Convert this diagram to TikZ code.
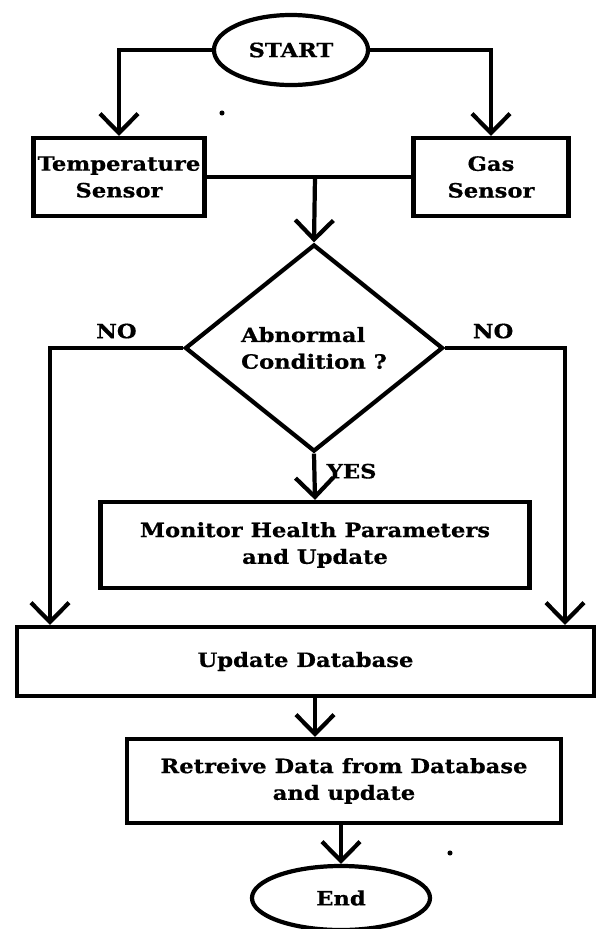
\documentclass[tikz,border=0pt]{standalone}
\usepackage{fontspec}
\setmainfont{DejaVu Serif}[FakeStretch=1.15, BoldFeatures={FakeBold=0.6}]
\usetikzlibrary{arrows.meta, positioning, shapes.geometric, calc}
\definecolor{flowInk}{HTML}{000000}
\newcommand{\flowfont}{\fontsize{14}{19}\selectfont\bfseries}
\tikzset{
  arrowF/.style={-{Straight Barb[length=4.8mm, width=9.5mm]}, draw=flowInk, line width=3pt},
  lineF/.style={draw=flowInk, line width=3pt},
  boxP/.style={rectangle, draw=flowInk, line width=3pt, fill=white,
               align=center, font=\flowfont, inner sep=2pt},
  ovalT/.style={ellipse, draw=flowInk, line width=3pt, fill=white,
                font=\flowfont, inner sep=0pt},
  diamD/.style={diamond, draw=flowInk, line width=3pt, fill=white,
                align=left, font=\flowfont, inner sep=0pt},
  tagF/.style={font=\flowfont, inner sep=1pt},
}

\begin{document}
\begin{tikzpicture}[x=0.025cm, y=-0.025cm]
    \useasboundingbox (0,0) rectangle (598,929);
    % terminals and boxes
    \node[ovalT, minimum width=3.85cm, minimum height=1.75cm] (start) at (291,50) {START};
    \node[boxP, minimum width=4.275cm, minimum height=1.95cm] (temp) at (119,177) {Temperature\\Sensor};
    \node[boxP, minimum width=3.875cm, minimum height=1.95cm] (gas) at (491,177) {Gas\\Sensor};
    \node[diamD, minimum width=6.45cm, minimum height=5.175cm] (cond) at (314,348) {Abnormal\\Condition ?};
    \node[boxP, minimum width=10.725cm, minimum height=2.15cm] (mon) at (315,545) {Monitor Health Parameters\\and Update};
    \node[boxP, minimum width=14.425cm, minimum height=1.725cm] (db) at (305.5,661.5) {Update Database};
    \node[boxP, minimum width=10.85cm, minimum height=2.1cm] (ret) at (344,781) {Retreive Data from Database\\and update};
    \node[ovalT, minimum width=4.45cm, minimum height=1.6cm] (stop) at (341,898) {End};
    \coordinate (merge) at (315,177);
    \coordinate (railL) at (50,348);
    \coordinate (railR) at (565,348);

    % connectors
    \draw[arrowF] (start.west) -| (temp.north);
    \draw[arrowF] (start.east) -| (gas.north);
    \draw[lineF] (temp.east) -- (gas.west);
    \draw[arrowF] (merge) -- (cond.north);
    \draw[arrowF] (cond.south) -- node[tagF, right, pos=0.38, xshift=2.2mm] {YES} (mon.north);
    \draw[arrowF] (cond.west) -- node[tagF, above, yshift=1.5mm] {NO} (railL) -- (railL |- db.north);
    \draw[arrowF] (cond.east) -- node[tagF, above, pos=0.4, yshift=1.5mm] {NO} (railR) -- (railR |- db.north);
    \draw[arrowF] (db.south -| mon) -- (ret.north -| mon);
    \draw[arrowF] (ret.south -| stop) -- (stop.north);

    % stray specks
    \fill[flowInk] (222,113) circle[radius=1.8pt];
    \fill[flowInk] (450,853) circle[radius=1.8pt];
\end{tikzpicture}
\end{document}
